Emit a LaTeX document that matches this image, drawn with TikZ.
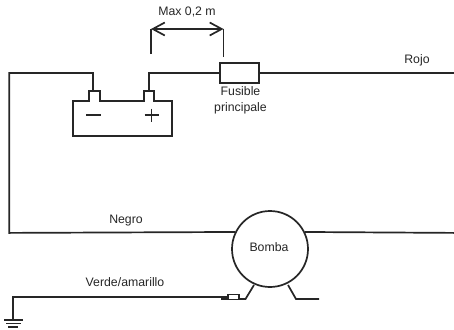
\documentclass[tikz,border=0pt]{standalone}
\usepackage{fontspec}
\setmainfont{Liberation Sans}
\usetikzlibrary{arrows.meta}

\tikzset{
  wire/.style={line width=1.7pt,draw=black!85},
  part/.style={draw=black!85,line width=1.7pt,fill=white,inner sep=0pt},
  label/.style={font=\fontsize{12.3}{15.5}\selectfont,color=black!85,inner sep=0pt,align=center}
}

\begin{document}
\begin{tikzpicture}[x=1pt,y=-1pt]

\useasboundingbox (0,0) rectangle (454,329);

% fuse and pump
\node [part,minimum width=39pt,minimum height=20pt] (fuse) at (239.5,73) {};
\node [part,circle,minimum size=76pt] (pump) at (270,249) {};
\node [label] (pumpName) at (269,247) {Bomba};

% battery
\draw [wire] (73,136) -- (73,101) -- (89,101) -- (89,91) -- (100,91) -- (100,101) -- (144,101) -- (144,91) -- (154,91) -- (154,101) -- (172,101) -- (172,136) -- cycle;
\draw [wire] (86,115) -- (101,115);
\draw [wire] (144.5,115) -- (158.5,115);
\draw [wire] (151.5,108.5) -- (151.5,122);

\coordinate (minusPost) at (93,91);
\coordinate (plusPost) at (149,91);
\coordinate (minusCorner) at (93,73);
\coordinate (plusCorner) at (149,73);
\coordinate (leftTop) at (9.3,73);
\coordinate (leftBottom) at (9.3,232.9);
\coordinate (rightEnd) at (454,73);
\coordinate (pumpRight) at (454,232.9);

% wires
\draw [wire] (minusPost) -- (minusCorner) -- (leftTop) -- (leftBottom) -- (pump.154);
\draw [wire] (plusPost) -- (plusCorner) -- (fuse.west);
\draw [wire] (fuse.east) -- (rightEnd);
\draw [wire] (pump.26) -- (pumpRight);

% max length
\coordinate (dimLeft) at (151,29);
\coordinate (dimRight) at (223.5,29);
\coordinate (dimLeftEnd) at (151,54);
\coordinate (dimRightEnd) at (223.5,57);
\draw [wire] (dimLeftEnd) -- (dimLeft);
\draw [wire] (dimRightEnd) -- (dimRight);
\draw [wire,{Straight Barb[length=12pt,width=13pt]}-{Straight Barb[length=12pt,width=13pt]}] (dimLeft) -- (dimRight);

% pump feet and earth
\coordinate (footLeft) at (254,285);
\coordinate (footLeftKnee) at (245.5,299);
\coordinate (footLeftEnd) at (221,299);
\coordinate (footRight) at (288,285);
\coordinate (footRightKnee) at (296,299);
\coordinate (footRightEnd) at (319,299);
\draw [wire] (footLeft) -- (footLeftKnee) -- (footLeftEnd);
\draw [wire] (footRight) -- (footRightKnee) -- (footRightEnd);
\node [part,line width=1.2pt,minimum width=11pt,minimum height=5pt] (lug) at (233.5,296.9) {};

\coordinate (earthCorner) at (13,296.9);
\coordinate (earthTop) at (13,320);
\draw [wire] (lug.west) -- (earthCorner) -- (earthTop);
\coordinate (earthA) at (4,320);
\coordinate (earthB) at (23,320);
\coordinate (earthC) at (6,323.5);
\coordinate (earthD) at (21,323.5);
\coordinate (earthE) at (8,327);
\coordinate (earthF) at (18,327);
\draw [wire] (earthA) -- (earthB);
\draw [wire] (earthC) -- (earthD);
\draw [wire] (earthE) -- (earthF);

% labels
\node [label] (maxText) at (187,12) {Max 0,2 m};
\node [label] (fuseText) at (240.5,100.5) {Fusible\\principale};
\node [label] (rojoText) at (417,60) {Rojo};
\node [label] (negroText) at (126,220.5) {Negro};
\node [label] (verdeText) at (125,282.5) {Verde/amarillo};

\end{tikzpicture}
\end{document}
